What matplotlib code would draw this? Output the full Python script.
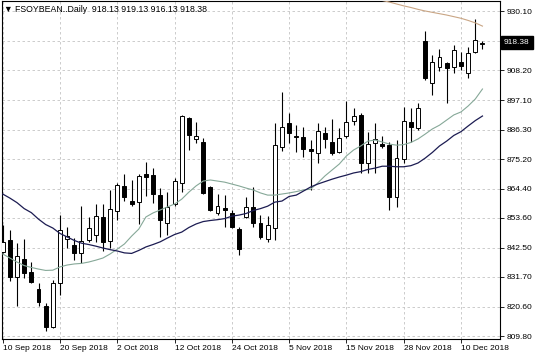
import matplotlib
matplotlib.use("Agg")
import matplotlib.pyplot as plt
import matplotlib.transforms as mtransforms
import numpy as np

plt.rcParams['font.family'] = ['Liberation Sans', 'DejaVu Sans']

# ---- data (daily OHLC, FSOYBEAN) ----
opens = [841.0, 845.4, 831.8, 838.2, 833.6, 827.1, 820.9, 813.0, 829.3, 845.7,
         843.5, 840.7, 845.4, 847.2, 853.8, 845.1, 856.2, 865.4, 859.9, 859.5,
         869.8, 869.4, 862.0, 851.5, 858.7, 866.6, 890.4, 882.7, 881.8, 864.9,
         855.2, 857.1, 855.2, 849.3, 854.0, 857.5, 851.5, 845.6, 849.7, 879.9,
         888.8, 883.9, 883.6, 879.1, 877.7, 885.1, 881.8, 878.1, 883.8, 889.3,
         891.7, 873.8, 881.4, 880.9, 880.5, 861.4, 875.2, 889.2, 886.7, 919.2,
         903.6, 909.3, 910.8, 909.5, 911.4, 907.1, 915.1, 918.13]
highs = [850.9, 849.1, 844.4, 845.6, 837.3, 829.5, 822.1, 830.5, 854.6, 850.1,
         846.0, 857.9, 853.8, 858.6, 858.7, 863.9, 866.5, 869.8, 867.6, 869.8,
         874.1, 871.9, 864.5, 863.2, 868.3, 891.7, 891.0, 889.2, 883.0, 865.4,
         862.4, 862.0, 856.5, 850.3, 861.4, 864.9, 854.6, 854.4, 888.6, 900.3,
         892.3, 887.9, 887.3, 882.4, 888.6, 887.3, 890.1, 886.7, 897.0, 894.1,
         892.3, 885.5, 888.6, 883.9, 881.8, 882.4, 894.5, 894.1, 896.2, 922.9,
         913.9, 916.0, 911.4, 917.6, 915.1, 916.9, 927.1, 919.13]
lows = [840.5, 830.3, 820.9, 831.2, 829.3, 820.9, 811.8, 812.7, 825.0, 842.3,
        837.9, 836.9, 844.7, 844.7, 841.4, 842.3, 852.8, 859.9, 857.9, 851.3,
        861.7, 858.9, 846.6, 847.2, 857.9, 863.2, 878.7, 881.4, 862.5, 856.2,
        854.6, 850.3, 849.7, 839.8, 853.4, 850.2, 845.7, 844.7, 845.4, 878.4,
        881.2, 878.1, 876.2, 863.9, 873.8, 879.3, 876.8, 877.7, 883.0, 887.8,
        870.2, 870.1, 870.2, 879.3, 856.5, 857.7, 873.8, 881.8, 886.1, 904.6,
        899.1, 908.1, 896.0, 907.3, 908.3, 905.2, 914.5, 916.13]
closes = [844.5, 831.8, 839.4, 833.2, 829.9, 822.5, 813.2, 829.5, 849.1, 846.8,
          840.4, 845.1, 849.7, 854.2, 844.7, 856.8, 865.7, 861.4, 858.7, 869.1,
          868.6, 862.4, 852.8, 857.7, 867.3, 891.3, 884.2, 883.9, 862.7, 856.5,
          857.9, 856.5, 850.1, 841.9, 857.5, 851.8, 846.4, 850.9, 880.5, 887.3,
          884.9, 883.4, 878.9, 878.4, 885.8, 882.7, 877.7, 883.0, 889.1, 891.2,
          873.9, 880.9, 882.7, 880.2, 861.4, 875.6, 889.5, 887.1, 894.1, 905.2,
          911.4, 913.0, 908.9, 915.7, 909.8, 914.5, 919.4, 918.38]

# moving averages
ma_fast = [840.2, 838.7, 837.2, 835.9, 835.2, 834.6, 834.1, 834.2, 835.4, 836.1,
           836.5, 836.7, 837.2, 837.9, 838.7, 840.2, 842.0, 843.9, 846.8, 849.4,
           853.9, 855.4, 856.5, 857.6, 858.7, 860.5, 863.1, 865.4, 867.2, 867.6,
           867.2, 866.8, 866.1, 865.4, 864.6, 863.9, 862.8, 862.0, 862.0, 862.4,
           862.8, 863.3, 863.9, 864.2, 866.5, 869.1, 871.3, 873.5, 876.5, 878.7,
           880.2, 882.0, 882.4, 881.7, 880.9, 880.5, 880.7, 881.5, 882.8, 884.6,
           886.5, 887.9, 889.8, 891.7, 892.8, 895.0, 897.6, 901.3]
ma_slow = [862.4, 860.9, 859.2, 857.0, 855.5, 853.1, 851.1, 849.8, 847.8, 846.5,
           845.2, 844.2, 843.7, 843.1, 842.4, 841.8, 841.3, 840.6, 840.4, 841.5,
           842.8, 843.7, 844.7, 846.1, 847.4, 848.3, 850.0, 851.3, 852.2, 852.6,
           852.9, 853.3, 854.2, 854.6, 855.2, 856.3, 857.0, 857.9, 859.4, 859.8,
           861.5, 862.0, 863.5, 865.0, 866.1, 867.0, 867.9, 868.7, 869.4, 870.2,
           870.7, 871.5, 872.0, 872.7, 872.7, 872.5, 872.5, 872.9, 873.9, 875.7,
           877.8, 880.2, 882.0, 884.1, 885.5, 887.6, 889.6, 891.3]
ma_long_start = 50
ma_long = [936.0, 935.4, 934.8, 934.1, 933.5, 932.8, 932.1, 931.5, 930.8, 930.2,
           929.7, 929.2, 928.7, 928.1, 927.5, 926.7, 925.8, 924.6]

date_idx = [0, 8, 16, 24, 32, 40, 48, 56, 64]
date_labels = ["10 Sep 2018", "20 Sep 2018", "2 Oct 2018", "12 Oct 2018", "24 Oct 2018",
               "5 Nov 2018", "15 Nov 2018", "28 Nov 2018", "10 Dec 2018"]
price_ticks = [930.10, 919.20, 908.20, 897.10, 886.30, 875.20, 864.40, 853.60,
               842.50, 831.70, 820.60, 809.80]
price_labels = ["930.10", "", "908.20", "897.10", "886.30", "875.20", "864.40",
                "853.60", "842.50", "831.70", "820.60", "809.80"]
last_price = 918.38
title = "\u25BC FSOYBEAN..Daily  918.13 919.13 916.13 918.38"

# ---- figure ----
W, H = 536, 357
fig = plt.figure(figsize=(W / 100, H / 100), dpi=100)
fig.patch.set_facecolor('white')
ax = fig.add_axes([1.7 / W, (H - 339) / H, (500 - 1.7) / W, 338 / H])
ax.set_facecolor('white')

x = np.arange(len(closes))
o = np.array(opens); c = np.array(closes)
h = np.array(highs); l = np.array(lows)
up = c >= o

ax.vlines(x, l, h, color='black', linewidth=0.8, zorder=3)
ax.bar(x, np.abs(c - o), bottom=np.minimum(o, c), width=0.55,
       color=np.where(up, 'white', 'black'), edgecolor='black', linewidth=0.7, zorder=4)

ax.plot(x, ma_fast, color='#86a898', linewidth=0.8, zorder=5)
ax.plot(x, ma_slow, color='#1c1c52', linewidth=0.9, zorder=5)
ax.plot(np.arange(ma_long_start, ma_long_start + len(ma_long)), ma_long,
        color='#c9a584', linewidth=0.8, zorder=5)

ax.set_xlim(-0.14, 69.45)
ax.set_ylim(808.7, 933.9)

# grid
ax.set_xticks(date_idx)
ax.set_xticklabels(date_labels)
ax.set_yticks(price_ticks)
ax.set_yticklabels(price_labels)
ax.grid(True, color='#c4c4c4', linestyle=(0, (3, 3)), linewidth=0.6, zorder=0)
ax.set_axisbelow(True)

ax.yaxis.tick_right()
ax.tick_params(axis='y', direction='out', length=3, width=0.6, pad=2,
               labelsize=6.0, colors='black')
ax.tick_params(axis='x', direction='out', length=3, width=0.6, pad=1.5,
               labelsize=6.0, colors='black')
for lbl in ax.get_xticklabels():
    lbl.set_horizontalalignment('left')

for s in ax.spines.values():
    s.set_color('black')
    s.set_linewidth(0.8)

# last price box
trans = mtransforms.blended_transform_factory(ax.transAxes, ax.transData)
ax.text(1.0 + 4 / (W * ax.get_position().width), last_price, f"{last_price:.2f}",
        transform=trans, color='white', fontsize=6.0, va='center', ha='left',
        bbox=dict(boxstyle='square,pad=0.35', facecolor='black', edgecolor='black'),
        zorder=20, clip_on=False)

# title
fig.text(4 / W, 1 - 5 / H, title, fontsize=6.3, va='top', ha='left', color='black')

fig.savefig('out.png', dpi=100, facecolor='white')
